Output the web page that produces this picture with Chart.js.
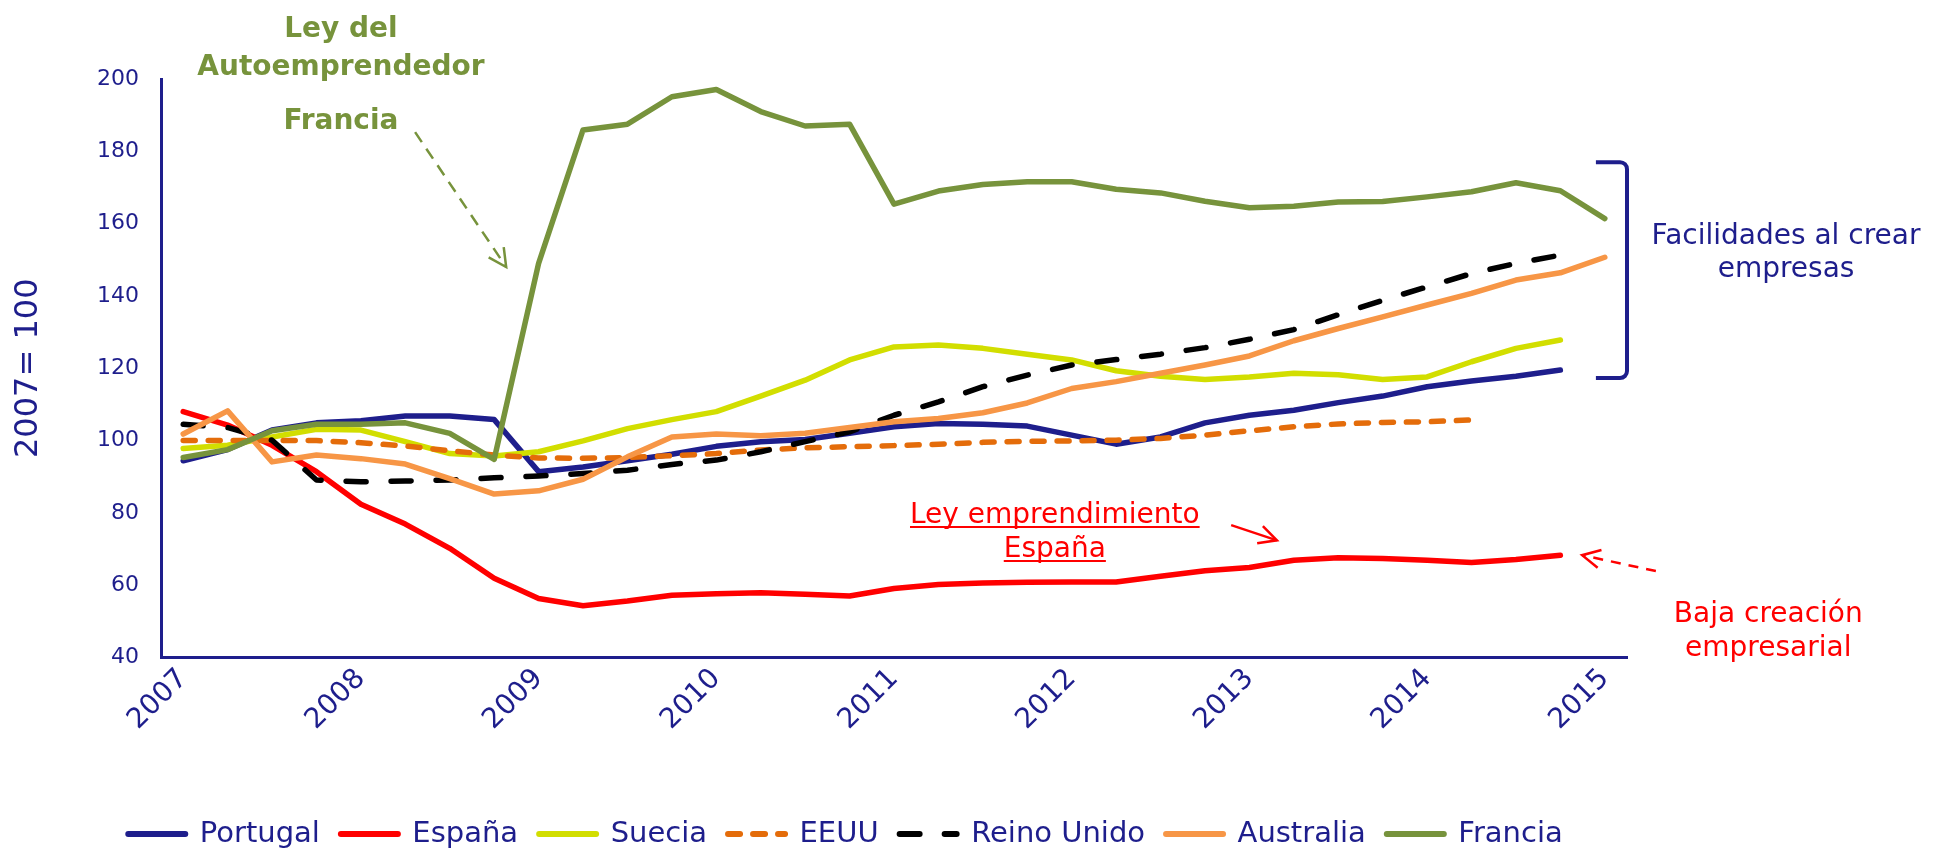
<!DOCTYPE html>
<html lang="es">
<head>
<meta charset="utf-8">
<title>Creación de empresas (2007 = 100)</title>
<script src="https://cdn.jsdelivr.net/npm/chart.js@4.4.1/dist/chart.umd.min.js"></script>
<style>
  html, body { margin: 0; padding: 0; background: #ffffff; }
  #wrap { width: 1934px; height: 851px; position: relative; }
</style>
</head>
<body>
<div id="wrap"><canvas id="chart"></canvas></div>
<script>
const years = ['2007', '2008', '2009', '2010', '2011', '2012', '2013', '2014', '2015'];
const quarters = ['T1', 'T2', 'T3', 'T4'];
// quarterly points, 2007 T1 .. 2015 T1
const categories = years.flatMap(y => quarters.map(q => y + ' ' + q)).slice(0, 33);

const portugal = [94.4, 97.5, 102.9, 104.9, 105.5, 106.8, 106.8, 105.8, 91.4, 92.7, 94.4, 96.2,
  98.4, 99.7, 100.3, 102.0, 103.8, 104.7, 104.5, 104.0, 101.5, 99.0, 101.0, 104.9,
  107.0, 108.4, 110.5, 112.3, 114.9, 116.5, 117.8, 119.5];
const espana = [108.0, 104.3, 98.7, 91.4, 82.4, 76.9, 70.2, 61.9, 56.3, 54.3, 55.6, 57.2,
  57.6, 57.9, 57.5, 57.0, 59.1, 60.2, 60.6, 60.8, 60.9, 60.9, 62.5, 64.0,
  64.9, 66.9, 67.6, 67.4, 66.9, 66.3, 67.1, 68.3];
const suecia = [97.8, 98.7, 101.0, 103.1, 102.9, 99.7, 96.4, 95.7, 96.9, 99.9, 103.3, 105.8,
  108.0, 112.3, 116.7, 122.3, 125.9, 126.4, 125.5, 123.9, 122.3, 119.3, 117.8, 116.9,
  117.6, 118.6, 118.2, 116.9, 117.6, 121.8, 125.5, 127.8];
const eeuu = [100.0, 100.0, 100.0, 100.0, 99.4, 98.5, 97.2, 96.0, 95.2, 95.1, 95.3, 95.8,
  96.4, 97.4, 98.0, 98.3, 98.6, 99.0, 99.5, 99.8, 99.9, 100.1, 100.6, 101.5,
  102.7, 103.8, 104.6, 105.0, 105.2, 105.7];
const reinoUnido = [104.5, 103.6, 100.1, 89.1, 88.6, 88.8, 89.1, 89.7, 90.2, 90.9, 91.8, 93.4,
  94.6, 96.9, 99.7, 102.4, 107.0, 110.7, 114.9, 118.1, 120.9, 122.4, 123.9, 125.7,
  128.0, 130.7, 134.8, 138.8, 142.5, 146.2, 149.0, 151.3];
const australia = [101.8, 108.2, 94.1, 96.0, 95.0, 93.5, 89.5, 85.2, 86.1, 89.3, 95.5, 101.0,
  101.8, 101.3, 102.0, 103.6, 105.2, 106.1, 107.7, 110.4, 114.4, 116.3, 118.6, 120.9,
  123.4, 127.6, 131.0, 134.2, 137.5, 140.7, 144.4, 146.4, 150.7];
const francia = [95.3, 97.5, 102.7, 104.5, 104.5, 104.9, 102.0, 94.8, 149.0, 185.9, 187.5, 195.1,
  197.1, 191.0, 187.0, 187.5, 165.4, 169.0, 170.8, 171.6, 171.6, 169.5, 168.5, 166.2,
  164.4, 164.8, 166.0, 166.1, 167.4, 168.8, 171.3, 169.1, 161.4];

const navy = '#1e1e8c';
const green = '#77933c';
const red = '#ff0000';
const family = '"DejaVu Sans", sans-serif';

function line(label, data, color, dash, order) {
    return {
        label: label,
        data: data,
        order: order,
        borderColor: color,
        backgroundColor: color,
        borderWidth: 5.5,
        borderDash: dash,
        borderCapStyle: 'round',
        borderJoinStyle: 'round',
        pointRadius: 0,
        pointHoverRadius: 0,
        tension: 0,
        fill: false
    };
}

function arrow(ctx, x1, y1, x2, y2, color, dash) {
    const a = Math.atan2(y2 - y1, x2 - x1);
    const len = 20;
    const spread = 27 * Math.PI / 180;
    ctx.strokeStyle = color;
    ctx.lineWidth = 2.5;
    ctx.lineCap = 'butt';
    ctx.setLineDash(dash);
    ctx.beginPath();
    ctx.moveTo(x1, y1);
    ctx.lineTo(x2, y2);
    ctx.stroke();
    ctx.setLineDash([]);
    ctx.beginPath();
    ctx.moveTo(x2 - len * Math.cos(a - spread), y2 - len * Math.sin(a - spread));
    ctx.lineTo(x2, y2);
    ctx.lineTo(x2 - len * Math.cos(a + spread), y2 - len * Math.sin(a + spread));
    ctx.stroke();
}

function underlined(ctx, text, cx, by) {
    ctx.fillText(text, cx, by);
    const w = ctx.measureText(text).width;
    ctx.lineWidth = 2;
    ctx.beginPath();
    ctx.moveTo(cx - w / 2, by + 4);
    ctx.lineTo(cx + w / 2, by + 4);
    ctx.stroke();
}

// annotations, placed in chart units (category index, index value)
const notes = {
    id: 'notes',
    afterDraw(chart) {
        const { ctx, chartArea, scales: { x, y } } = chart;
        const X = i => x.getPixelForValue(i);
        const Y = v => y.getPixelForValue(v);
        ctx.save();
        ctx.textAlign = 'center';
        ctx.textBaseline = 'alphabetic';

        // Francia
        ctx.fillStyle = green;
        ctx.font = 'bold 28px ' + family;
        ctx.fillText('Ley del', X(3.55), Y(211.6));
        ctx.fillText('Autoemprendedor', X(3.55), Y(201.1));
        ctx.fillText('Francia', X(3.55), Y(186.1));
        arrow(ctx, X(5.22), Y(185.3), X(7.27), Y(148), green, [12, 8]);

        // España
        ctx.fillStyle = red;
        ctx.strokeStyle = red;
        ctx.font = '28px ' + family;
        underlined(ctx, 'Ley emprendimiento', X(19.62), Y(77.2));
        underlined(ctx, 'España', X(19.62), Y(67.8));
        arrow(ctx, X(23.59), Y(76.6), X(24.62), Y(72.4), red, []);
        arrow(ctx, X(33.15), Y(63.9), X(31.49), Y(68.3), red, [10, 8]);
        ctx.fillStyle = red;
        ctx.fillText('Baja creación', X(35.68), Y(49.8));
        ctx.fillText('empresarial', X(35.68), Y(40.5));

        // bracket
        const bx0 = X(31.8), bx1 = chartArea.right, by0 = Y(177), by1 = Y(117.3), r = 7;
        ctx.strokeStyle = navy;
        ctx.lineWidth = 4;
        ctx.setLineDash([]);
        ctx.beginPath();
        ctx.moveTo(bx0, by0);
        ctx.arcTo(bx1, by0, bx1, by0 + r, r);
        ctx.arcTo(bx1, by1, bx0, by1, r);
        ctx.lineTo(bx0, by1);
        ctx.stroke();
        ctx.fillStyle = navy;
        ctx.fillText('Facilidades al crear', X(36.08), Y(154.3));
        ctx.fillText('empresas', X(36.08), Y(145.1));
        ctx.restore();
    }
};

new Chart(document.getElementById('chart'), {
    type: 'line',
    data: {
        labels: categories,
        datasets: [
            line('Portugal', portugal, navy, [], 7),
            line('España', espana, red, [], 6),
            line('Suecia', suecia, '#d2de00', [], 5),
            line('EEUU', eeuu, '#e46c0a', [12, 13], 4),
            line('Reino Unido', reinoUnido, '#000000', [20, 25], 3),
            line('Australia', australia, '#f79646', [], 2),
            line('Francia', francia, green, [], 1)
        ]
    },
    options: {
        responsive: true,
        maintainAspectRatio: false,
        animation: false,
        events: [],
        layout: {
            padding: { left: 64, right: 307, top: 79, bottom: -7.5 }
        },
        scales: {
            x: {
                offset: true,
                grid: { display: false, drawTicks: false },
                border: { display: true, color: navy, width: 3 },
                ticks: {
                    autoSkip: false,
                    minRotation: 45,
                    maxRotation: 45,
                    padding: 5,
                    color: navy,
                    font: { family: family, size: 28 },
                    callback: (v, i) => i % 4 === 0 ? years[i / 4] : ''
                },
                afterFit: s => { s.height = 141; }
            },
            y: {
                min: 40,
                max: 200,
                grid: { display: false, drawTicks: false },
                border: { display: true, color: navy, width: 3 },
                ticks: {
                    stepSize: 20,
                    padding: 22,
                    color: navy,
                    font: { family: family, size: 22 }
                },
                title: {
                    display: true,
                    text: '2007= 100',
                    color: navy,
                    font: { family: family, size: 32 },
                    padding: { top: -55, bottom: 0 }
                },
                afterFit: s => { s.width = 97; }
            }
        },
        plugins: {
            tooltip: { enabled: false },
            legend: {
                position: 'bottom',
                labels: {
                    usePointStyle: true,
                    pointStyle: 'line',
                    pointStyleWidth: 57,
                    padding: 21,
                    color: navy,
                    font: { family: family, size: 29 },
                    generateLabels: chart => chart.data.datasets.map((ds, i) => ({
                        text: ds.label,
                        datasetIndex: i,
                        fillStyle: ds.borderColor,
                        strokeStyle: ds.borderColor,
                        lineWidth: 6,
                        lineDash: ds.borderDash,
                        lineCap: 'round',
                        pointStyle: 'line',
                        fontColor: navy,
                        hidden: false
                    }))
                }
            }
        }
    },
    plugins: [notes]
});
</script>
</body>
</html>
